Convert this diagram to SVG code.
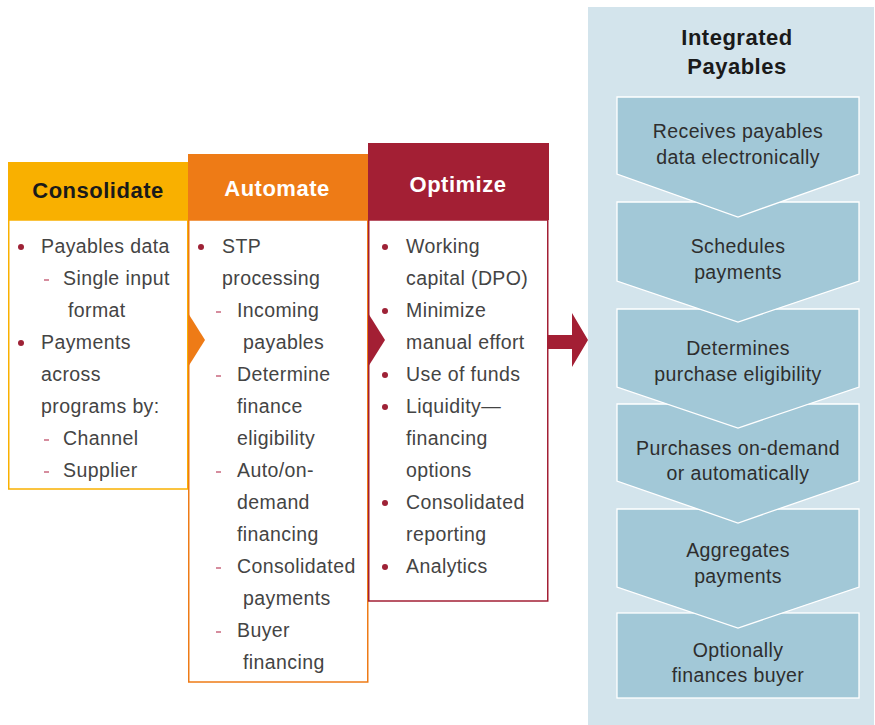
<svg xmlns="http://www.w3.org/2000/svg" width="875" height="725" viewBox="0 0 875 725">
<style>
.t{font-family:"Liberation Sans",Arial,sans-serif;font-size:19.5px;letter-spacing:0.4px;fill:#444444}
.h{font-family:"Liberation Sans",Arial,sans-serif;font-size:22px;letter-spacing:0.5px;font-weight:bold;text-anchor:middle}
.c{font-family:"Liberation Sans",Arial,sans-serif;font-size:19.5px;letter-spacing:0.4px;fill:#2e2e2e;text-anchor:middle}
.dot{fill:#9e2236}
.dash{stroke:#c0506a;stroke-width:1.3}
.chev{fill:#a2c8d7;stroke:#ffffff;stroke-width:1.3}
</style>
<rect x="0" y="0" width="875" height="725" fill="#ffffff"/>

<g id="integrated-payables">
<rect x="588" y="7" width="286" height="720" fill="#d3e4ec"/>
<text class="h" x="737" y="45" fill="#1a1a1a">Integrated</text>
<text class="h" x="737" y="74" fill="#1a1a1a">Payables</text>
</g>

<g id="step6"><rect class="chev" x="617" y="613" width="242" height="85"/>
<text class="c" x="738" y="657">Optionally</text><text class="c" x="738" y="682">finances buyer</text></g>
<g id="step5"><polygon class="chev" points="617,509 859,509 859,587 738,628 617,587"/>
<text class="c" x="738" y="557">Aggregates</text><text class="c" x="738" y="583">payments</text></g>
<g id="step4"><polygon class="chev" points="617,404 859,404 859,481 738,523 617,481"/>
<text class="c" x="738" y="455">Purchases on-demand</text><text class="c" x="738" y="480">or automatically</text></g>
<g id="step3"><polygon class="chev" points="617,309 859,309 859,387 738,428 617,387"/>
<text class="c" x="738" y="355">Determines</text><text class="c" x="738" y="381">purchase eligibility</text></g>
<g id="step2"><polygon class="chev" points="617,202 859,202 859,281 738,322 617,281"/>
<text class="c" x="738" y="253">Schedules</text><text class="c" x="738" y="279">payments</text></g>
<g id="step1"><polygon class="chev" points="617,97 859,97 859,174 738,217 617,174"/>
<text class="c" x="738" y="138">Receives payables</text><text class="c" x="738" y="164">data electronically</text></g>

<g id="consolidate">
<rect x="8.75" y="220" width="179" height="269" fill="#ffffff" stroke="#f9b000" stroke-width="1.5"/>
<rect x="8" y="162" width="181" height="58" fill="#f9b000"/>
<text class="h" x="98" y="198" fill="#1a1a1a">Consolidate</text>
<circle class="dot" cx="21" cy="247" r="3"/><text class="t" x="41" y="253">Payables data</text>
<line class="dash" x1="44" y1="280" x2="49" y2="280"/><text class="t" x="63" y="285">Single input</text>
<text class="t" x="68" y="317">format</text>
<circle class="dot" cx="21" cy="343" r="3"/><text class="t" x="41" y="349">Payments</text>
<text class="t" x="41" y="381">across</text>
<text class="t" x="41" y="413">programs by:</text>
<line class="dash" x1="44" y1="440" x2="49" y2="440"/><text class="t" x="63" y="445">Channel</text>
<line class="dash" x1="44" y1="472" x2="49" y2="472"/><text class="t" x="63" y="477">Supplier</text>
</g>

<g id="automate">
<rect x="188.75" y="220" width="179" height="462" fill="#ffffff" stroke="#ee7b16" stroke-width="1.5"/>
<rect x="188" y="154" width="181" height="66" fill="#ee7b16"/>
<polygon points="188,313 205,340 188,367" fill="#ee7b16"/>
<text class="h" x="277" y="196" fill="#ffffff">Automate</text>
<circle class="dot" cx="201" cy="247" r="3"/><text class="t" x="222" y="253">STP</text>
<text class="t" x="222" y="285">processing</text>
<line class="dash" x1="216" y1="312" x2="221" y2="312"/><text class="t" x="237" y="317">Incoming</text>
<text class="t" x="243" y="349">payables</text>
<line class="dash" x1="216" y1="376" x2="221" y2="376"/><text class="t" x="237" y="381">Determine</text>
<text class="t" x="237" y="413">finance</text>
<text class="t" x="237" y="445">eligibility</text>
<line class="dash" x1="216" y1="472" x2="221" y2="472"/><text class="t" x="237" y="477">Auto/on-</text>
<text class="t" x="237" y="509">demand</text>
<text class="t" x="237" y="541">financing</text>
<line class="dash" x1="216" y1="568" x2="221" y2="568"/><text class="t" x="237" y="573">Consolidated</text>
<text class="t" x="243" y="605">payments</text>
<line class="dash" x1="216" y1="632" x2="221" y2="632"/><text class="t" x="237" y="637">Buyer</text>
<text class="t" x="243" y="669">financing</text>
</g>

<g id="optimize">
<rect x="368.75" y="220" width="179" height="381" fill="#ffffff" stroke="#a31f34" stroke-width="1.5"/>
<rect x="368" y="143" width="181" height="77" fill="#a31f34"/>
<polygon points="368,313 385,340 368,367" fill="#a31f34"/>
<text class="h" x="458" y="192" fill="#ffffff">Optimize</text>
<circle class="dot" cx="385" cy="247" r="3"/><text class="t" x="406" y="253">Working</text>
<text class="t" x="406" y="285">capital (DPO)</text>
<circle class="dot" cx="385" cy="311" r="3"/><text class="t" x="406" y="317">Minimize</text>
<text class="t" x="406" y="349">manual effort</text>
<circle class="dot" cx="385" cy="375" r="3"/><text class="t" x="406" y="381">Use of funds</text>
<circle class="dot" cx="385" cy="407" r="3"/><text class="t" x="406" y="413">Liquidity—</text>
<text class="t" x="406" y="445">financing</text>
<text class="t" x="406" y="477">options</text>
<circle class="dot" cx="385" cy="503" r="3"/><text class="t" x="406" y="509">Consolidated</text>
<text class="t" x="406" y="541">reporting</text>
<circle class="dot" cx="385" cy="567" r="3"/><text class="t" x="406" y="573">Analytics</text>
</g>

<g id="connectors">
<polygon points="548,335 572,335 572,313 588,340 572,367 572,349 548,349" fill="#a31f34"/>
</g>
</svg>
